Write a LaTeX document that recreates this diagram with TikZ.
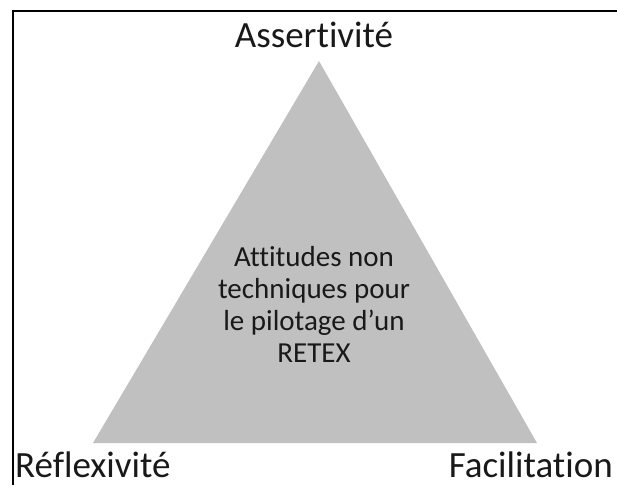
\documentclass[tikz,border=0pt]{standalone}
\usepackage{fontspec}
\setmainfont{Carlito}[Ligatures={NoCommon}]
\begin{document}
\begin{tikzpicture}[x=1pt,y=-1pt,
  corner/.style={font=\fontsize{37}{44}\selectfont, text=black!90, inner sep=0pt, anchor=base},
  centre/.style={font=\fontsize{29}{32}\selectfont, text=black!90, inner sep=0pt, align=center, anchor=north},
  frameline/.style={line width=2pt, black}]
\useasboundingbox (0,0) rectangle (617,485);
% frame
\coordinate (fl) at (12.5,485);
\coordinate (ftl) at (12.5,11);
\coordinate (ftr) at (617,11);
\draw[frameline] (fl) -- (ftl) -- (ftr);
% triangle
\coordinate (apex) at (319,61);
\coordinate (bl) at (93,443);
\coordinate (br) at (537,443);
\fill[fill={rgb,255:red,192;green,192;blue,192}] (apex) -- (bl) -- (br) -- cycle;
% labels
\node[corner] (assert) at (314,47) {Assertivité};
\node[corner, anchor=base west] (reflex) at (15,477) {Réflexivité};
\node[corner, anchor=base east] (facil) at (613,477) {Facilitation};
\node[centre] (mid) at (314,246) {Attitudes non\\techniques pour\\le pilotage d’un\\RETEX};
\end{tikzpicture}
\end{document}
